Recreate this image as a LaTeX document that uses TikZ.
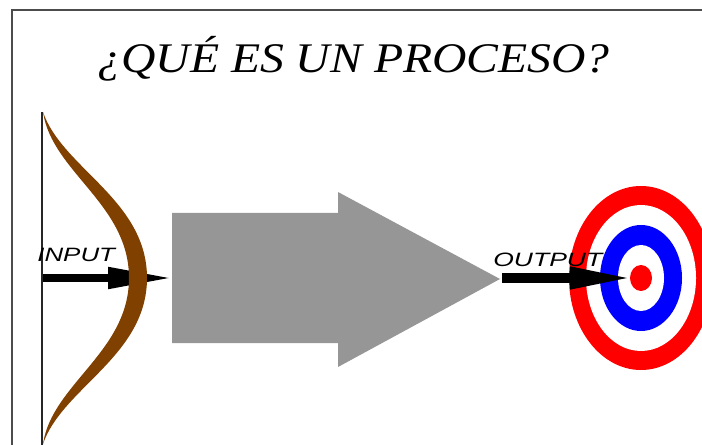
\documentclass[tikz,border=0pt]{standalone}
\usepackage{fontspec}
\setmainfont{Liberation Serif}
\newfontfamily\lblfont{Liberation Sans}
\usepackage{tikz}
\usepackage{xcolor}
\usetikzlibrary{arrows.meta}
\definecolor{bowbrown}{RGB}{128,64,0}
\definecolor{blockgray}{RGB}{150,150,150}

\begin{document}
\begin{tikzpicture}[x=0.02cm, y=-0.02cm,
        lbl/.style={font=\lblfont\itshape\fontsize{11}{13}\selectfont, inner sep=0pt, anchor=base west},
        dart/.style={line width=#1, -{Triangle[length=1.3cm, width=0.4cm]}}]
                \useasboundingbox (0, 0) rectangle (702, 445);
                \clip (0, 0) rectangle (702, 445);
                \draw[gray!60!black, line width=0.03cm] (12, 445) -- (12, 10) -- (702, 10);
                \node[font=\itshape\fontsize{24}{28}\selectfont, anchor=base, inner sep=0pt] (title) at (353.5, 73) {\scalebox{1.13}[1]{¿QUÉ ES UN PROCESO?}};
                \fill[blockgray] (172, 213) -- (338, 213) -- (338, 192) -- (500, 279) -- (338, 367) -- (338, 343) -- (172, 343) -- cycle;
                \coordinate (instart) at (42, 278);
                \coordinate (intip) at (173, 278);
                \coordinate (outstart) at (502, 278);
                \coordinate (outtip) at (635, 278);
                \coordinate (tgt) at (641, 278);
                \draw[dart=0.16cm] (instart) -- (intip);
                \fill[bowbrown] (43, 112) .. controls (62, 168) and (147, 200) .. (147, 278)
                        .. controls (147, 356) and (62, 388) .. (43, 444)
                        .. controls (52, 384) and (129, 352) .. (129, 278)
                        .. controls (129, 204) and (52, 172) .. (43, 112);
                \draw[black!85, line width=0.03cm] (42, 112) -- (42, 445);
                \fill[red] (tgt) ellipse [x radius=72, y radius=92];
                \fill[white] (tgt) ellipse [x radius=55, y radius=73];
                \fill[blue] (tgt) ellipse [x radius=41, y radius=53];
                \fill[white] (tgt) ellipse [x radius=23, y radius=33];
                \fill[red] (tgt) ellipse [x radius=11, y radius=13];
                \draw[dart=0.2cm] (outstart) -- (outtip);
                \node[lbl] (inlbl) at (37, 262) {\scalebox{1.34}[1]{INPUT}};
                \node[lbl] (outlbl) at (493, 267) {\scalebox{1.37}[1]{OUTPUT}};
            \end{tikzpicture}
\end{document}
